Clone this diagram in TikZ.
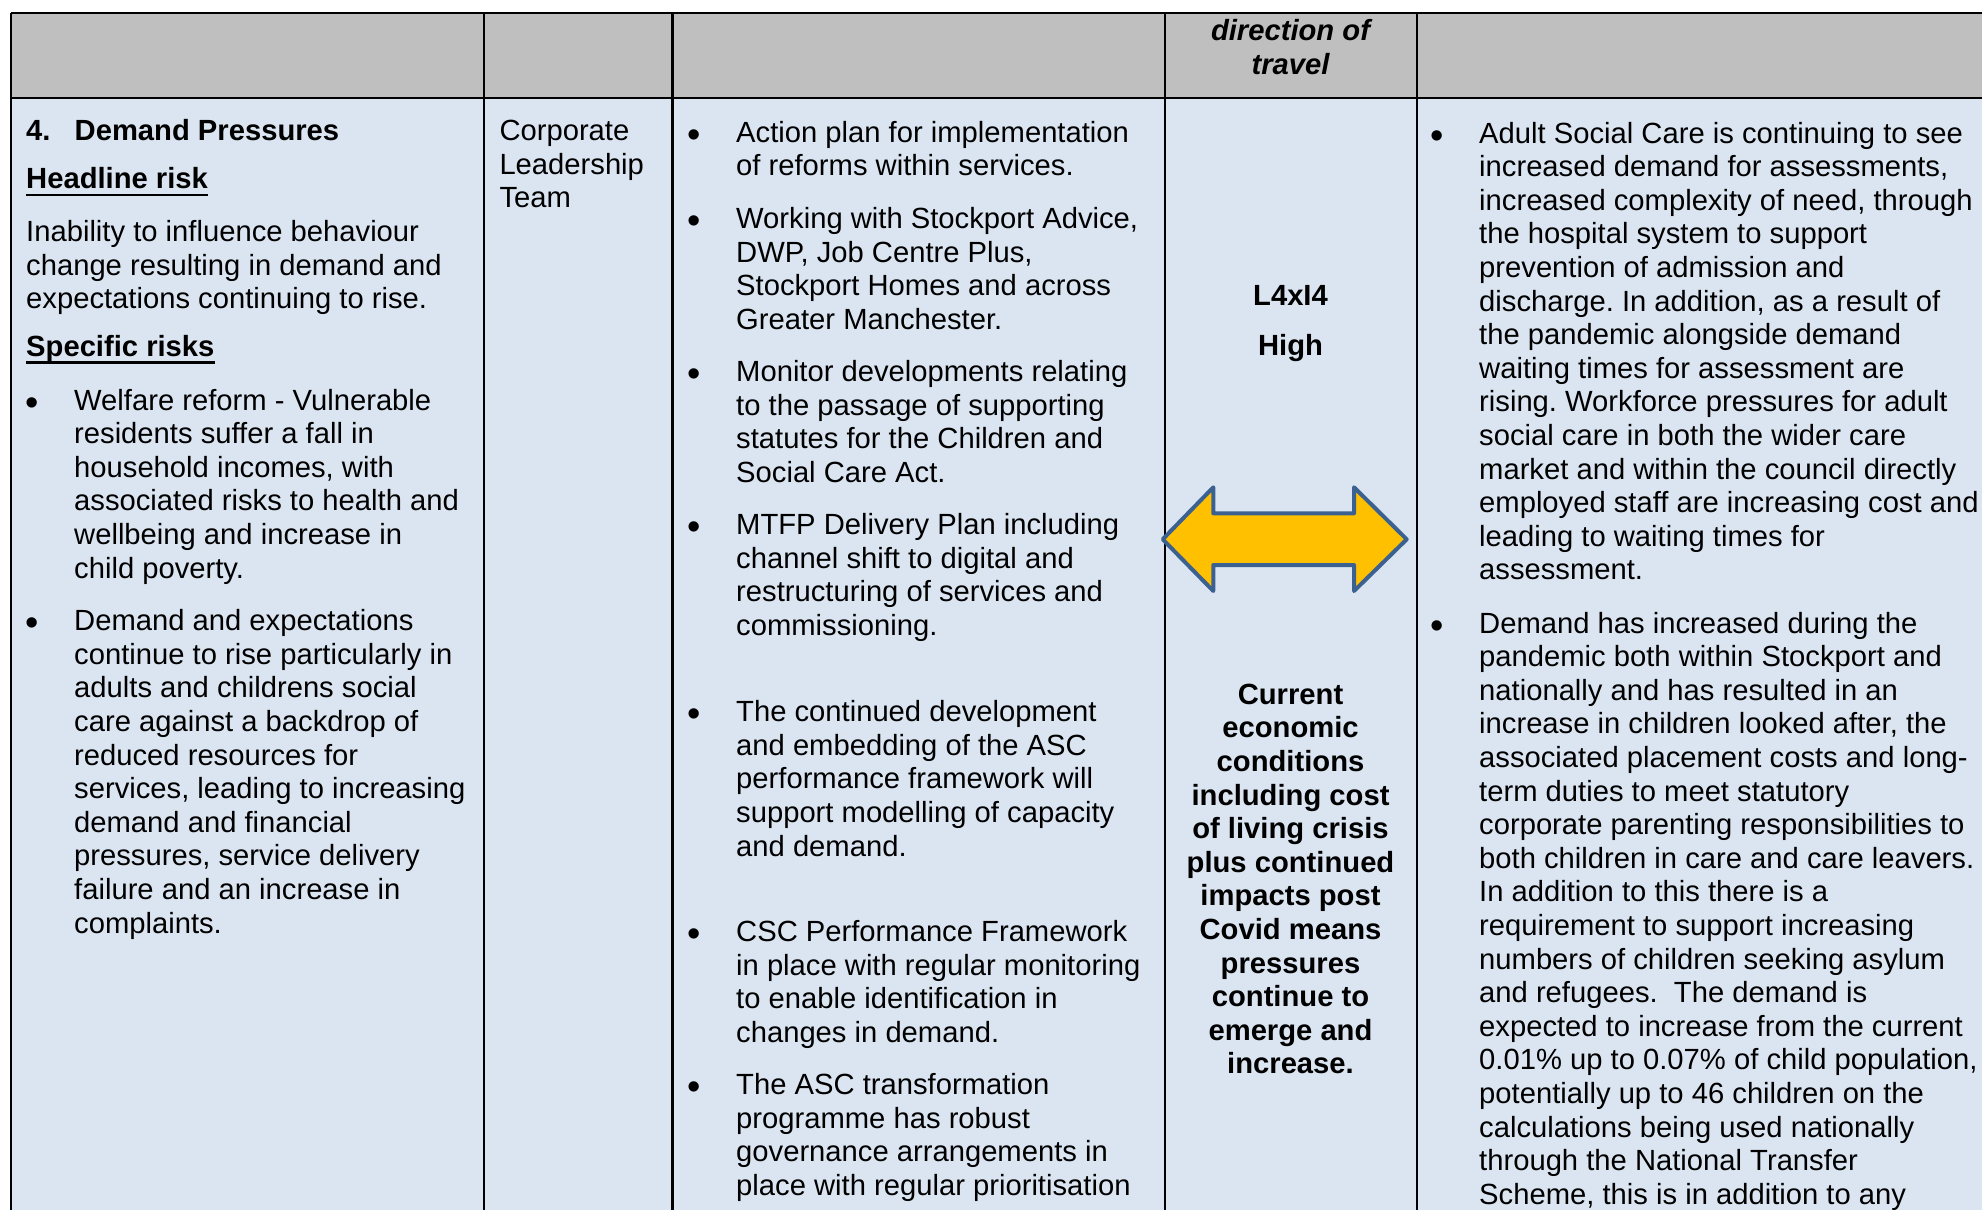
\documentclass[tikz,border=0pt]{standalone}
\usepackage{fontspec}
\setmainfont{Liberation Sans}

\newcommand{\cellfont}{\fontsize{29.2}{33.6}\selectfont\frenchspacing}
\newcommand{\bulfont}{\fontsize{38}{40}\selectfont}
\definecolor{hdrgray}{HTML}{BFBFBF}
\definecolor{bodyblue}{HTML}{DBE5F1}
\definecolor{arrowfill}{HTML}{FFC000}
\definecolor{arrowline}{HTML}{3B6190}

\begin{document}
\begin{tikzpicture}[x=1pt,y=-1pt]
  \tikzstyle{txt}=[anchor=base west,inner sep=0pt,align=left,font=\cellfont]
  \tikzstyle{bld}=[txt,font=\cellfont\bfseries]
  \tikzstyle{ctr}=[anchor=base,inner sep=0pt,align=center,font=\cellfont\bfseries]
  \tikzstyle{bul}=[anchor=base,inner sep=0pt,font=\bulfont,yshift=-5pt]
  \tikzstyle{rule}=[line width=2.2pt]
  \tikzstyle{uline}=[line width=2.6pt]
  \def\ytop{12.7}	% top edge of table
  \def\yhd{97.7}	% bottom of header row
  \def\ybot{1210}	% page bottom
  \def\xr{1982}	% page right
  \def\cx{1290.5}	% middle of rating column
  \def\bs{33.6}	% line pitch (nodes sit on their last line)
  \clip (0,0) rectangle (\xr,\ybot);
  \fill[white] (0,0) rectangle (\xr,\ybot);
  \fill[hdrgray] (11,\ytop) rectangle (\xr,\yhd);
  \fill[bodyblue] (11,\yhd) rectangle (\xr,\ybot);
  % table rules
  \draw[rule] (11,\ytop) -- (\xr,\ytop);
  \draw[rule] (11,\yhd) -- (\xr,\yhd);
  \foreach \x in {11,484,672.5,1165,1417}
    \draw[rule] (\x,\ytop) -- (\x,\ybot);
  % header
  \node[ctr,font=\cellfont\bfseries\itshape] (dot) at (\cx,40.7+\bs) {direction of\\travel};
  % risk column
  \node[bld] (num) at (26,140) {4.};
  \node[bld] (title) at (74.5,140) {Demand Pressures};
  \node[bld] (hrisk) at (26,188.3) {Headline risk};
  \draw[uline] ([yshift=-6.7pt]hrisk.base west) -- ([yshift=-6.7pt]hrisk.base east);
  \node[txt] (hrtext) at (26,241.5+2*\bs) {Inability to influence behaviour\\change resulting in demand and\\expectations continuing to rise.};
  \node[bld] (srisk) at (26,356) {Specific risks};
  \draw[uline] ([yshift=-6.7pt]srisk.base west) -- ([yshift=-6.7pt]srisk.base east);
  \node[bul] (sb1) at (31.7,410) {\textbullet};
  \node[txt] (sr1) at (74,410+5*\bs) {Welfare reform - Vulnerable\\residents suffer a fall in\\household incomes, with\\associated risks to health and\\wellbeing and increase in\\child poverty.};
  \node[bul] (sb2) at (31.7,630.6) {\textbullet};
  \node[txt] (sr2) at (74,630.6+9*\bs) {Demand and expectations\\continue to rise particularly in\\adults and childrens social\\care against a backdrop of\\reduced resources for\\services, leading to increasing\\demand and financial\\pressures, service delivery\\failure and an increase in\\complaints.};
  % owner column
  \node[txt] (owner) at (499.3,140.7+2*\bs) {Corporate\\Leadership\\Team};
  % controls column
  \node[bul] (cb1) at (694,142) {\textbullet};
  \node[txt] (c1) at (736,142+\bs) {Action plan for implementation\\of reforms within services.};
  \node[bul] (cb2) at (694,228.7) {\textbullet};
  \node[txt] (c2) at (736,228.7+3*\bs) {Working with Stockport Advice,\\DWP, Job Centre Plus,\\Stockport Homes and across\\Greater Manchester.};
  \node[bul] (cb3) at (694,381.6) {\textbullet};
  \node[txt] (c3) at (736,381.6+3*\bs) {Monitor developments relating\\to the passage of supporting\\statutes for the Children and\\Social Care Act.};
  \node[bul] (cb4) at (694,534.6) {\textbullet};
  \node[txt] (c4) at (736,534.6+3*\bs) {MTFP Delivery Plan including\\channel shift to digital and\\restructuring of services and\\commissioning.};
  \node[bul] (cb5) at (694,721.6) {\textbullet};
  \node[txt] (c5) at (736,721.6+4*\bs) {The continued development\\and embedding of the ASC\\performance framework will\\support modelling of capacity\\and demand.};
  \node[bul] (cb6) at (694,941.6) {\textbullet};
  \node[txt] (c6) at (736,941.6+3*\bs) {CSC Performance Framework\\in place with regular monitoring\\to enable identification in\\changes in demand.};
  \node[bul] (cb7) at (694,1094.5) {\textbullet};
  \node[txt] (c7) at (736,1094.5+3*\bs) {The ASC transformation\\programme has robust\\governance arrangements in\\place with regular prioritisation};
  % rating column
  \node[ctr] (score) at (\cx,305.8) {L4xI4};
  \node[ctr] (level) at (\cx,355) {High};
  \draw[arrowline,fill=arrowfill,line width=4pt,line join=round]
    (1162.7,539.3) -- (1213.3,487.3) -- (1213.3,513.3) -- (1354,513.3) -- (1354,487.3)
    -- (1406.7,539.3) -- (1354,591) -- (1354,565) -- (1213.3,565) -- (1213.3,591) -- cycle;
  \node[ctr] (trend) at (\cx,704.3+11*\bs) {Current\\economic\\conditions\\including cost\\of living crisis\\plus continued\\impacts post\\Covid means\\pressures\\continue to\\emerge and\\increase.};
  % update column
  \node[bul] (ub1) at (1437,143) {\textbullet};
  \node[txt] (u1) at (1479,143+13*\bs) {Adult Social Care is continuing to see\\increased demand for assessments,\\increased complexity of need, through\\the hospital system to support\\prevention of admission and\\discharge. In addition, as a result of\\the pandemic alongside demand\\waiting times for assessment are\\rising. Workforce pressures for adult\\social care in both the wider care\\market and within the council directly\\employed staff are increasing cost and\\leading to waiting times for\\assessment.};
  \node[bul] (ub2) at (1437,633) {\textbullet};
  \node[txt] (u2) at (1479,633+17*\bs) {Demand has increased during the\\pandemic both within Stockport and\\nationally and has resulted in an\\increase in children looked after, the\\associated placement costs and long-\\term duties to meet statutory\\corporate parenting responsibilities to\\both children in care and care leavers.\\In addition to this there is a\\requirement to support increasing\\numbers of children seeking asylum\\and refugees.\ \ The demand is\\expected to increase from the current\\0.01\% up to 0.07\% of child population,\\potentially up to 46 children on the\\calculations being used nationally\\through the National Transfer\\Scheme, this is in addition to any};
\end{tikzpicture}
\end{document}
